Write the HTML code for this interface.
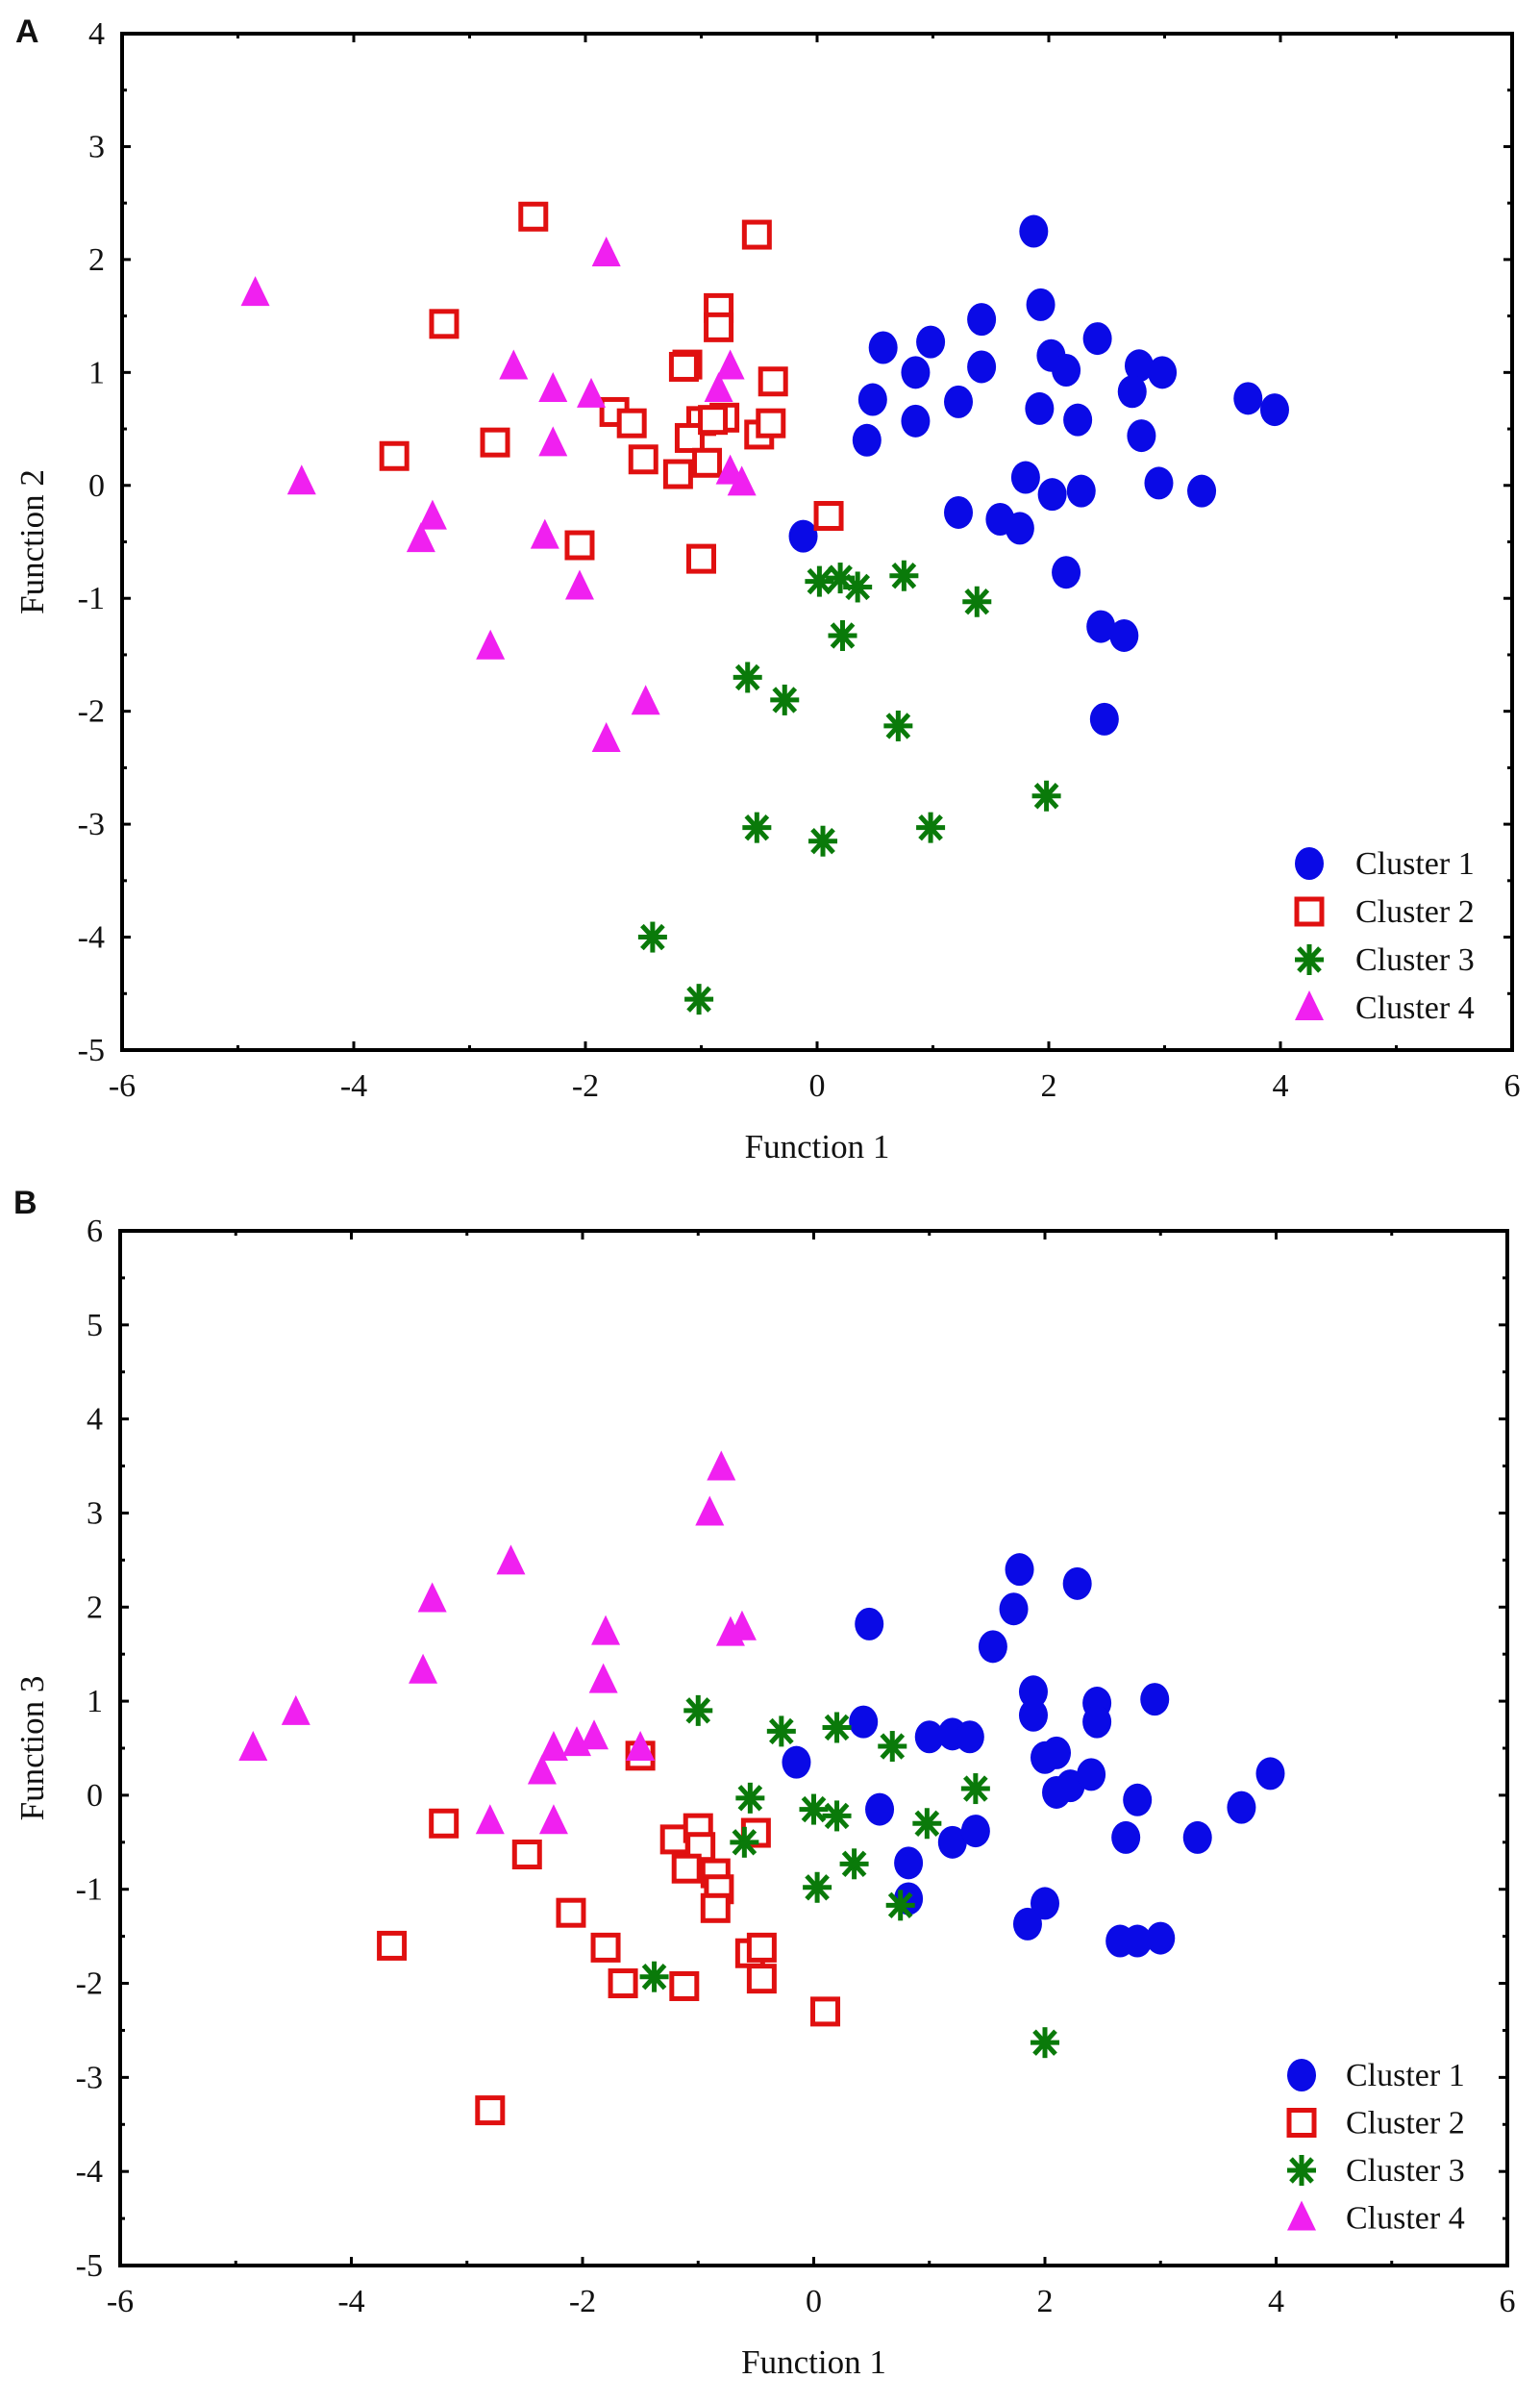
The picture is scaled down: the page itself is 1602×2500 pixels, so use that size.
<!DOCTYPE html>
<html><head><meta charset="utf-8">
<style>
html,body{margin:0;padding:0;background:#fff;}
svg{display:block;}
text{font-family:"Liberation Serif",serif;fill:#111;}
</style></head>
<body>
<svg id="chart" width="1602" height="2500" viewBox="0 0 1602 2500">
<text x="16" y="44" style="font-family:'Liberation Sans',sans-serif;font-weight:bold;font-size:34px">A</text>
<text x="14" y="1262" style="font-family:'Liberation Sans',sans-serif;font-weight:bold;font-size:34px">B</text>
</svg>
<script>
// Panel A: Function 1 vs Function 2
const a1x=[1.87,1.93,0.57,0.98,1.42,0.85,1.42,2.02,2.15,2.42,2.78,2.98,2.72,0.48,1.22,1.92,2.25,0.85,0.43,2.8,3.72,3.95,1.8,2.03,2.28,2.95,3.32,1.22,1.58,1.75,-0.12,2.15,2.45,2.65,2.48];
const a1y=[2.25,1.6,1.22,1.27,1.47,1.0,1.05,1.15,1.02,1.3,1.06,1.0,0.83,0.76,0.74,0.68,0.58,0.57,0.4,0.44,0.77,0.67,0.07,-0.08,-0.05,0.02,-0.05,-0.24,-0.3,-0.38,-0.45,-0.77,-1.25,-1.33,-2.07];
const a2x=[-2.45,-0.52,-3.22,-0.85,-0.85,-1.12,-0.38,-3.65,-2.78,-1.75,-1.6,-1.5,-1.2,-1.0,-1.1,-0.95,-0.8,-0.5,-0.4,-2.05,-1.0,0.1,-1.15,-0.9];
const a2y=[2.38,2.22,1.43,1.57,1.4,1.07,0.92,0.26,0.38,0.65,0.55,0.23,0.1,0.57,0.42,0.2,0.6,0.45,0.55,-0.53,-0.65,-0.27,1.05,0.58];
const a3x=[0.02,0.2,0.35,0.75,1.38,0.22,-0.6,-0.28,0.7,1.98,-0.52,0.05,0.98,-1.42,-1.02];
const a3y=[-0.85,-0.82,-0.9,-0.8,-1.03,-1.33,-1.7,-1.9,-2.13,-2.75,-3.03,-3.15,-3.03,-4.0,-4.55];
const a4x=[-4.85,-1.82,-4.45,-2.62,-2.28,-1.95,-2.28,-0.75,-0.85,-0.75,-0.65,-3.32,-3.42,-2.35,-2.05,-2.82,-1.48,-1.82];
const a4y=[1.7,2.05,0.03,1.05,0.85,0.8,0.37,1.05,0.85,0.12,0.02,-0.28,-0.48,-0.45,-0.9,-1.43,-1.92,-2.25];
// Panel B: Function 1 vs Function 3
const b1x=[1.78,2.28,0.48,1.73,1.55,1.9,1.9,2.45,2.45,2.95,0.43,1.0,1.2,1.35,-0.15,2.0,2.1,2.1,2.22,2.4,3.95,0.57,2.8,3.7,1.2,1.4,0.82,2.7,3.32,0.82,2.0,1.85,2.65,2.8,3.0];
const b1y=[2.4,2.25,1.82,1.98,1.58,1.1,0.85,0.98,0.78,1.02,0.78,0.62,0.65,0.62,0.35,0.4,0.45,0.03,0.1,0.22,0.23,-0.15,-0.05,-0.13,-0.5,-0.38,-0.72,-0.45,-0.45,-1.1,-1.15,-1.37,-1.55,-1.55,-1.52];
const b2x=[-1.5,-3.2,-2.48,-1.2,-1.0,-0.98,-0.5,-1.1,-0.85,-0.82,-0.85,-2.1,-3.65,-1.8,-0.55,-0.45,-0.45,-1.65,-1.12,0.1,-2.8];
const b2y=[0.42,-0.3,-0.63,-0.47,-0.35,-0.55,-0.4,-0.78,-0.83,-1.0,-1.2,-1.25,-1.6,-1.62,-1.68,-1.62,-1.95,-2.0,-2.03,-2.3,-3.35];
const b3x=[-1.0,-0.28,0.2,0.68,-0.55,0.0,0.2,1.4,0.98,-0.6,0.35,0.03,0.75,-1.38,2.0];
const b3y=[0.9,0.68,0.72,0.52,-0.03,-0.15,-0.22,0.07,-0.3,-0.5,-0.73,-0.98,-1.17,-1.93,-2.63];
const b4x=[-0.8,-0.9,-2.62,-3.3,-1.8,-0.72,-0.62,-3.38,-1.82,-4.48,-4.85,-2.25,-2.05,-1.9,-1.5,-2.35,-2.8,-2.25];
const b4y=[3.48,3.0,2.48,2.08,1.73,1.72,1.78,1.32,1.22,0.88,0.5,0.5,0.55,0.62,0.5,0.25,-0.28,-0.28];
const xTicks=[-6,-4,-2,0,2,4,6];
const aYTicks=[4,3,2,1,0,-1,-2,-3,-4,-5];
const bYTicks=[6,5,4,3,2,1,0,-1,-2,-3,-4,-5];
const legendLabels=['Cluster 1','Cluster 2','Cluster 3','Cluster 4'];

const NS='http://www.w3.org/2000/svg';
const svg=document.getElementById('chart');
function mk(tag,attrs,parent){const e=document.createElementNS(NS,tag);for(const k in attrs)e.setAttribute(k,attrs[k]);(parent||svg).appendChild(e);return e;}

function marker(g,type,cx,cy){
  let e;
  if(type===1){e=mk('ellipse',{cx:cx,cy:cy,rx:15,ry:17,fill:'#0a0ae6'},g);}
  else if(type===2){e=mk('rect',{x:cx-13,y:cy-13,width:26,height:26,fill:'#fff',stroke:'#e01010','stroke-width':5},g);}
  else if(type===3){
    e=mk('g',{stroke:'#0a7a0a','stroke-width':5,'stroke-linecap':'butt'},g);
    mk('line',{x1:cx-15,y1:cy,x2:cx+15,y2:cy},e);
    mk('line',{x1:cx,y1:cy-16,x2:cx,y2:cy+16},e);
    mk('line',{x1:cx-11,y1:cy-12,x2:cx+11,y2:cy+12},e);
    mk('line',{x1:cx-11,y1:cy+12,x2:cx+11,y2:cy-12},e);
  } else {e=mk('polygon',{points:(cx)+','+(cy-18)+' '+(cx-15)+','+(cy+13)+' '+(cx+15)+','+(cy+13),fill:'#f020f0'},g);}
  return e;
}

function panel(id,L,R,T,B,ymin,ymax,yTicks,series,yTitle,leg){
  const sx=v=>L+(v+6)/12*(R-L);
  const sy=v=>T+(ymax-v)/(ymax-ymin)*(B-T);
  const g=mk('g',{});
  
  
  const fr=mk('rect',{x:L,y:T,width:R-L,height:B-T,fill:'none',stroke:'#000','stroke-width':4},g);
  
  
  for(let v=-6;v<=6;v++){
    const len=(v%2===0)?9:5;const x=sx(v);
    mk('line',{x1:x,y1:B,x2:x,y2:B-len,stroke:'#000','stroke-width':3},g);
    mk('line',{x1:x,y1:T,x2:x,y2:T+len,stroke:'#000','stroke-width':3},g);
  }
  for(let v=ymin;v<=ymax;v+=0.5){
    const len=(Number.isInteger(v))?9:5;const y=sy(v);
    mk('line',{x1:L,y1:y,x2:L+len,y2:y,stroke:'#000','stroke-width':3},g);
    mk('line',{x1:R,y1:y,x2:R-len,y2:y,stroke:'#000','stroke-width':3},g);
  }
  xTicks.forEach(v=>{
    const t=mk('text',{x:sx(v),y:B+48,'text-anchor':'middle','font-size':34},g);
    t.textContent=String(v);
    
    
  });
  yTicks.forEach(v=>{
    const t=mk('text',{x:L-18,y:sy(v)+11,'text-anchor':'end','font-size':34},g);
    t.textContent=String(v);
    
    
  });
  const xt=mk('text',{x:(L+R)/2,y:B+112,'text-anchor':'middle','font-size':35},g);
  xt.textContent='Function 1';
  
  
  const yc=(T+B)/2;
  const yt=mk('text',{x:45,y:yc,'text-anchor':'middle','font-size':35,transform:'rotate(-90 45 '+yc+')'},g);
  yt.textContent=yTitle;
  
  
  series.forEach((s,i)=>{
    const sg=mk('g',{},g);
    
    
    s[0].forEach((xv,j)=>{
      const m=marker(sg,i+1,sx(xv),sy(s[1][j]));
      
      
    });
  });
  const lg=mk('g',{},g);
  
  
  legendLabels.forEach((lab,i)=>{
    const y=leg.y0+i*leg.dy;
    const eg=mk('g',{},lg);
    
    
    marker(eg,i+1,leg.mx,y);
    const t=mk('text',{x:leg.tx,y:y+11,'font-size':34},eg);
    t.textContent=lab;
  });
}

panel('panel-a',127,1573,35,1092,-5,4,aYTicks,[[a1x,a1y],[a2x,a2y],[a3x,a3y],[a4x,a4y]],'Function 2',{mx:1362,tx:1410,y0:898,dy:50});
panel('panel-b',125,1568,1280,2356,-5,6,bYTicks,[[b1x,b1y],[b2x,b2y],[b3x,b3y],[b4x,b4y]],'Function 3',{mx:1354,tx:1400,y0:2158,dy:49.5});
</script>
</body></html>
